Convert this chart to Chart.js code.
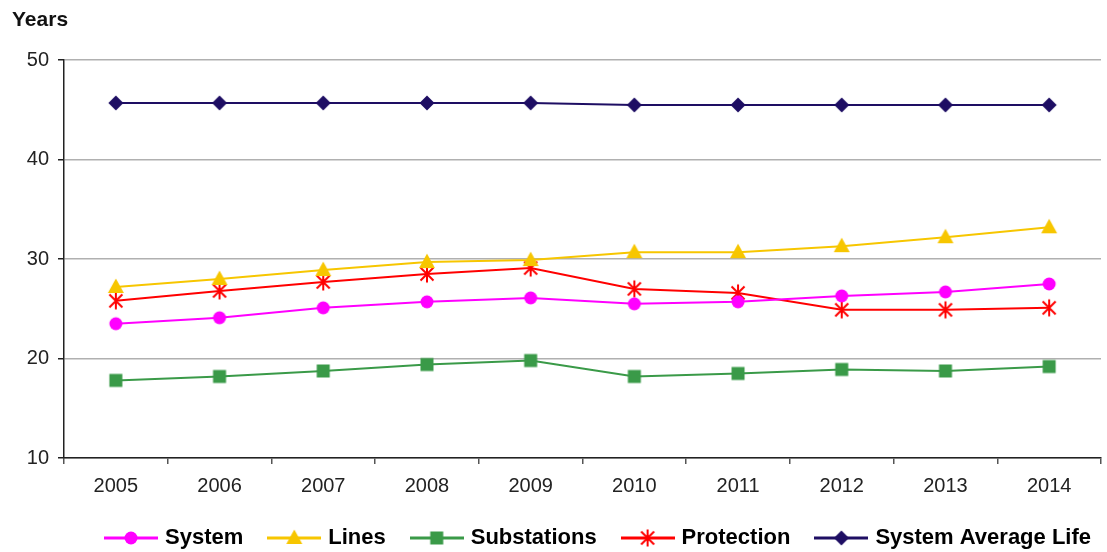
<!DOCTYPE html>
<html>
<head>
<meta charset="utf-8">
<script src="https://cdn.jsdelivr.net/npm/chart.js@4.4.1/dist/chart.umd.min.js"></script>
<style>
html,body{margin:0;padding:0;background:#fff}
#wrap{width:1107px;height:552px}
</style>
</head>
<body>
<div id="wrap"><canvas id="c"></canvas></div>
<script>
const years = ['2005','2006','2007','2008','2009','2010','2011','2012','2013','2014'];
const system = [23.5,24.1,25.1,25.7,26.1,25.5,25.7,26.3,26.7,27.5];
const lines = [27.2,28.0,28.9,29.7,29.9,30.7,30.7,31.3,32.2,33.2];
const substations = [17.8,18.2,18.75,19.4,19.8,18.2,18.5,18.9,18.75,19.2];
const protection = [25.8,26.8,27.7,28.5,29.1,27.0,26.6,24.9,24.9,25.1];
const avgLife = [45.7,45.7,45.7,45.7,45.7,45.5,45.5,45.5,45.5,45.5];
const yTicks = [10,20,30,40,50];

const FONT = "'Liberation Sans', Arial, sans-serif";

function drawMarker(ctx, type, x, y, color){
  ctx.fillStyle = color;
  ctx.strokeStyle = color;
  ctx.beginPath();
  if(type==='circle'){
    ctx.arc(x, y, 6.5, 0, Math.PI*2);
    ctx.fill();
  } else if(type==='triangle'){
    ctx.moveTo(x, y-8.5); ctx.lineTo(x+8, y+6); ctx.lineTo(x-8, y+6);
    ctx.closePath(); ctx.fill();
  } else if(type==='square'){
    ctx.rect(x-6.5, y-6.5, 13, 13); ctx.fill();
  } else if(type==='diamond'){
    ctx.moveTo(x, y-7.5); ctx.lineTo(x+7.5, y); ctx.lineTo(x, y+7.5); ctx.lineTo(x-7.5, y);
    ctx.closePath(); ctx.fill();
  } else if(type==='star'){
    ctx.lineWidth = 2;
    ctx.moveTo(x-6.5, y-6.5); ctx.lineTo(x+6.5, y+6.5);
    ctx.moveTo(x+6.5, y-6.5); ctx.lineTo(x-6.5, y+6.5);
    ctx.moveTo(x, y-8.5); ctx.lineTo(x, y+8.5);
    ctx.stroke();
  }
}

function pointImg(type, color){
  const c = document.createElement('canvas');
  c.width = 22; c.height = 22;
  drawMarker(c.getContext('2d'), type, 11, 11, color);
  return c;
}

function legendImg(type, color){
  const c = document.createElement('canvas');
  c.width = 54; c.height = 22;
  const ctx = c.getContext('2d');
  ctx.strokeStyle = color; ctx.lineWidth = 3;
  ctx.beginPath(); ctx.moveTo(0, 11); ctx.lineTo(54, 11); ctx.stroke();
  drawMarker(ctx, type, 27, 11, color);
  return c;
}

const series = [
  {label:'System', data:system, color:'#FF00FF', marker:'circle'},
  {label:'Lines', data:lines, color:'#F7C600', marker:'triangle'},
  {label:'Substations', data:substations, color:'#3A9A48', marker:'square'},
  {label:'Protection', data:protection, color:'#FF0000', marker:'star'},
  {label:'System Average Life', data:avgLife, color:'#1E0E63', marker:'diamond'}
];

// nudge the legend right, like the original layout
const legendShift = {
  id:'legendShift',
  afterLayout(chart){
    if(chart.legend){ chart.legend.left += 40; chart.legend.right += 40; }
  }
};

new Chart(document.getElementById('c'), {
  type:'line',
  data:{
    labels:years,
    datasets:series.map(s=>({
      label:s.label,
      data:s.data,
      borderColor:s.color,
      backgroundColor:s.color,
      borderWidth:2,
      pointStyle:pointImg(s.marker, s.color),
      legendImage:legendImg(s.marker, s.color),
      fill:false,
      tension:0
    }))
  },
  plugins:[legendShift],
  options:{
    responsive:true,
    maintainAspectRatio:false,
    animation:false,
    devicePixelRatio:1,
    layout:{padding:{left:12, right:0, top:0, bottom:-7}},
    plugins:{
      tooltip:{enabled:false},
      title:{
        display:true, text:'Years', align:'start', color:'#111',
        font:{family:FONT, size:21, weight:'bold'},
        padding:{top:8, bottom:27}
      },
      legend:{
        position:'bottom',
        labels:{
          usePointStyle:true,
          pointStyleWidth:46,
          padding:28,
          color:'#000',
          font:{family:FONT, size:22, weight:'bold'},
          generateLabels(chart){
            return chart.data.datasets.map((d,i)=>({
              text:d.label,
              pointStyle:d.legendImage,
              fillStyle:d.borderColor,
              strokeStyle:d.borderColor,
              lineWidth:0,
              hidden:false,
              datasetIndex:i
            }));
          }
        }
      }
    },
    scales:{
      x:{
        offset:true,
        afterFit(scale){ scale.height -= 9; },
        grid:{display:true, drawOnChartArea:false, offset:true, tickLength:6, tickColor:'#555', lineWidth:1.5},
        border:{color:'#222', width:1.5},
        ticks:{color:'#222', padding:10, font:{family:FONT, size:20}, maxRotation:0}
      },
      y:{
        min:10, max:50,
        afterBuildTicks(scale){ scale.ticks = yTicks.map(v=>({value:v})); },
        afterFit(scale){ scale.width = 52; },
        grid:{color:'#B0B0B0', lineWidth:1.5, tickLength:6, tickColor:'#222'},
        border:{color:'#222', width:1.5},
        ticks:{color:'#222', padding:9, font:{family:FONT, size:20}}
      }
    }
  }
});
</script>
</body>
</html>
